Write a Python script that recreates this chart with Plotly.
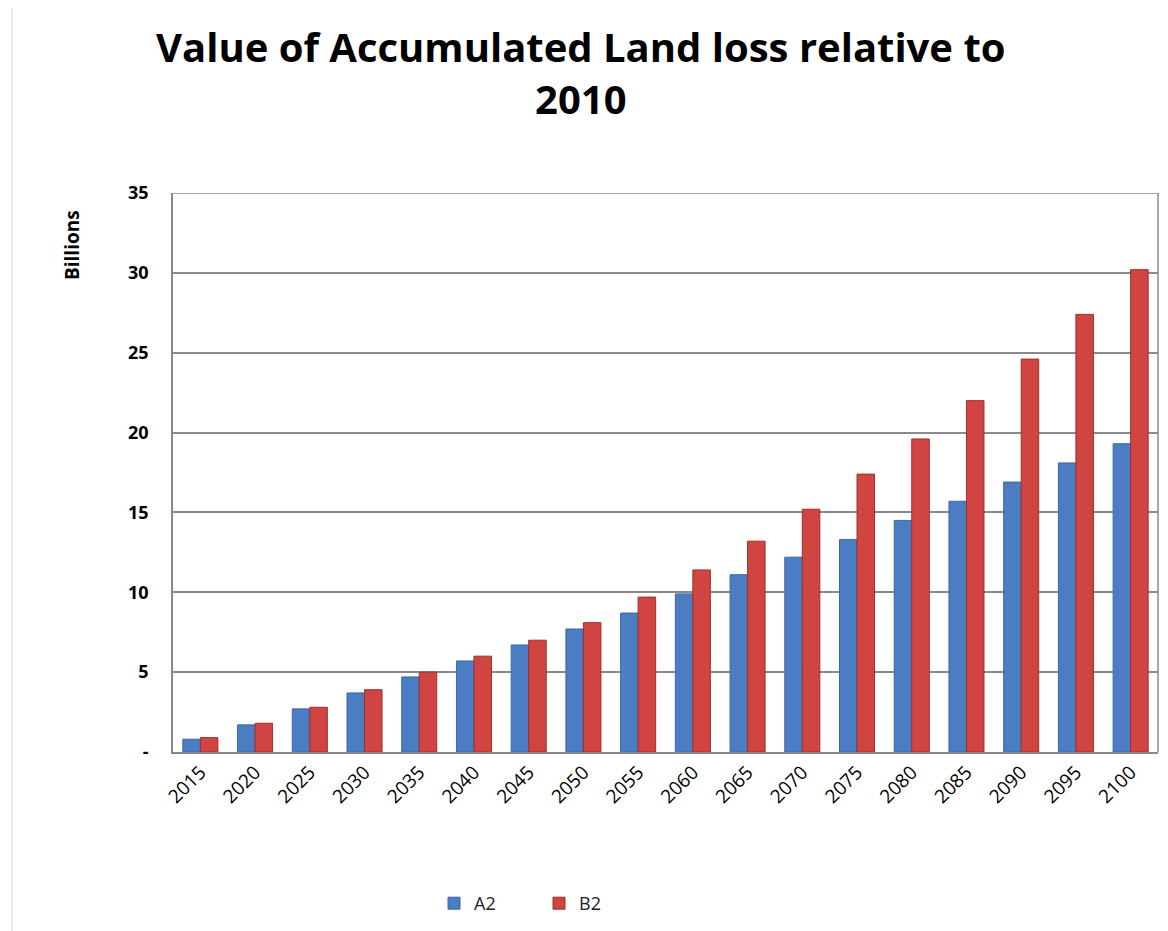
import plotly.graph_objects as go

years = ["2015", "2020", "2025", "2030", "2035", "2040", "2045", "2050", "2055",
         "2060", "2065", "2070", "2075", "2080", "2085", "2090", "2095", "2100"]
a2 = [0.8, 1.7, 2.7, 3.7, 4.7, 5.7, 6.7, 7.7, 8.7,
      9.9, 11.1, 12.2, 13.3, 14.5, 15.7, 16.9, 18.1, 19.3]
b2 = [0.9, 1.8, 2.8, 3.9, 5.0, 6.0, 7.0, 8.1, 9.7,
      11.4, 13.2, 15.2, 17.4, 19.6, 22.0, 24.6, 27.4, 30.2]
ytick_vals = [0, 5, 10, 15, 20, 25, 30, 35]
ytick_text = ["<b>-</b>", "<b>5</b>", "<b>10</b>", "<b>15</b>", "<b>20</b>", "<b>25</b>", "<b>30</b>", "<b>35</b>"]

FONT = "Open Sans"

fig = go.Figure()
fig.add_trace(go.Bar(name="A2", x=years, y=a2, marker=dict(color="#4A7DC2", line=dict(color="#3A67A6", width=1))))
fig.add_trace(go.Bar(name="B2", x=years, y=b2, marker=dict(color="#D04442", line=dict(color="#9E2F2D", width=1))))

fig.update_layout(
    width=1168, height=931,
    paper_bgcolor="white", plot_bgcolor="white",
    margin=dict(l=165, r=18, t=185, b=187, autoexpand=False),
    barmode="group", bargap=0.36, bargroupgap=0.0,
    title=dict(text="<b>Value of Accumulated Land loss relative to<br>2010</b>",
               xref="paper", x=0.414, xanchor="center",
               yref="container", y=0.942, yanchor="middle",
               font=dict(family=FONT, size=40, color="black")),
    font=dict(family=FONT, color="black"),
    legend=dict(orientation="h", x=0.265, xanchor="left", y=-0.271, yanchor="middle",
                font=dict(family=FONT, size=18, color="#222"), itemwidth=30,
                entrywidth=60, entrywidthmode="pixels",
                traceorder="normal"),
    xaxis=dict(tickangle=-45, tickfont=dict(family=FONT, size=19, color="black"),
               showline=True, linecolor="#888", linewidth=1.5, showgrid=False,
               ticks="", automargin=False),
    yaxis=dict(range=[0, 35], tickvals=ytick_vals, ticktext=ytick_text,
               tickfont=dict(family=FONT, size=18, color="black"),
               showgrid=True, gridcolor="#8A8A8A", gridwidth=1.5,
               showline=True, linecolor="#888", linewidth=1.5,
               ticklabelstandoff=19, zeroline=False, automargin=False),
)
fig.add_hline(y=35, line=dict(color="#8A8A8A", width=1.5))
fig.add_shape(type="line", xref="paper", yref="paper", x0=1.0, x1=1.0, y0=0, y1=1,
              line=dict(color="#8A8A8A", width=1.5))
fig.add_annotation(text="<b>Billions</b>", xref="paper", yref="paper", x=-0.1025, y=0.907,
                   xanchor="center", yanchor="middle",
                   showarrow=False, textangle=-90, font=dict(family=FONT, size=19, color="black"))
fig.add_shape(type="line", xref="paper", yref="paper", x0=-0.1635, x1=-0.1635, y0=-0.34, y1=1.34,
              line=dict(color="#D0D0D0", width=1))

fig.write_html("out.html")
